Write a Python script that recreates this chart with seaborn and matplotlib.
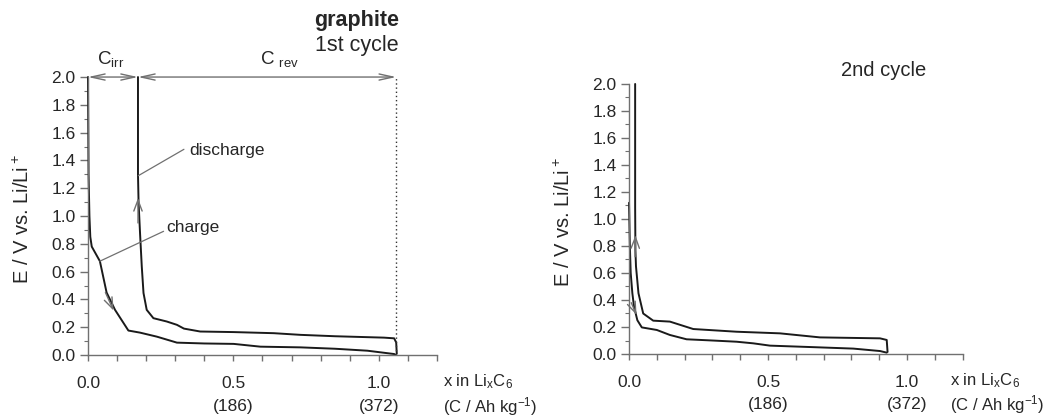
import numpy as np
import pandas as pd
import seaborn as sns
import matplotlib.pyplot as plt
from matplotlib.ticker import MultipleLocator, FixedLocator
import matplotlib.transforms as mtransforms

# 1st cycle: x in LixC6, E in V vs Li/Li+
charge1_x = [0.0, 0.002, 0.005, 0.008, 0.013, 0.041, 0.064, 0.093, 0.139, 0.179, 0.237,
             0.306, 0.40, 0.501, 0.593, 0.731, 0.85, 0.961, 1.053, 1.06]
charge1_E = [2.0, 1.3, 1.0, 0.85, 0.78, 0.675, 0.45, 0.325, 0.176, 0.161, 0.132,
             0.089, 0.083, 0.08, 0.06, 0.055, 0.045, 0.031, 0.007, 0.0]
discharge1_x = [1.062, 1.06, 1.053, 1.018, 0.85, 0.731, 0.639, 0.5, 0.386, 0.33, 0.306,
                0.271, 0.225, 0.202, 0.191, 0.185, 0.179, 0.174, 0.172, 0.172]
discharge1_E = [0.01, 0.09, 0.12, 0.125, 0.135, 0.145, 0.157, 0.165, 0.169, 0.19, 0.217,
                0.241, 0.265, 0.325, 0.446, 0.638, 0.88, 1.1, 1.3, 2.0]

# 2nd cycle
charge2_x = [0.0, 0.003, 0.006, 0.012, 0.018, 0.03, 0.046, 0.1, 0.147, 0.207, 0.3, 0.387,
             0.447, 0.507, 0.687, 0.807, 0.903, 0.927]
charge2_E = [1.12, 0.8, 0.6, 0.45, 0.35, 0.25, 0.197, 0.178, 0.141, 0.109, 0.1, 0.091,
             0.079, 0.062, 0.049, 0.04, 0.022, 0.01]
discharge2_x = [0.93, 0.927, 0.903, 0.687, 0.543, 0.387, 0.231, 0.147, 0.087, 0.051, 0.034,
                0.025, 0.023, 0.022, 0.022]
discharge2_E = [0.015, 0.104, 0.116, 0.123, 0.153, 0.165, 0.185, 0.24, 0.247, 0.30, 0.45,
                0.65, 0.77, 1.09, 2.0]

x_ticks = np.round(np.arange(0, 1.21, 0.1), 1)
x_labels = ["0.0", "0.5", "1.0"]
cap_labels = ["(186)", "(372)"]

sns.set_style("ticks")
plt.rcParams['font.family'] = ['Liberation Sans', 'DejaVu Sans']
plt.rcParams['mathtext.default'] = 'regular'

fig = plt.figure(figsize=(10.51, 4.18), dpi=100)
ax1 = fig.add_axes([0.0837, 0.1507, 0.332, 0.665])
ax2 = fig.add_axes([0.5985, 0.1531, 0.3174, 0.646])

line_col = "#1a1a1a"
grey = "#707070"
tick_fs = 12.5


def draw_cycle(ax, cx, cE, dx, dE):
    df = pd.concat([
        pd.DataFrame({"x": cx, "E": cE, "branch": "charge"}),
        pd.DataFrame({"x": dx, "E": dE, "branch": "discharge"}),
    ])
    for br in ["charge", "discharge"]:
        sub = df[df["branch"] == br]
        sns.lineplot(data=sub, x="x", y="E", sort=False, estimator=None, ax=ax,
                     color=line_col, lw=1.4, clip_on=False)


def style_axes(ax, label_x, ylab_x):
    ax.set_xlim(0, 1.2)
    ax.set_ylim(0, 2.0)
    sns.despine(ax=ax)
    for s in ["left", "bottom"]:
        ax.spines[s].set_color(grey)
        ax.spines[s].set_linewidth(1.0)
    ax.yaxis.set_major_locator(MultipleLocator(0.2))
    ax.yaxis.set_minor_locator(MultipleLocator(0.1))
    ax.yaxis.set_major_formatter(plt.FormatStrFormatter("%.1f"))
    ax.tick_params(axis="y", which="major", length=6, width=1, color=grey, labelsize=tick_fs, pad=3)
    ax.tick_params(axis="y", which="minor", length=3, width=0.8, color=grey)
    ax.xaxis.set_major_locator(FixedLocator(x_ticks))
    ax.set_xticklabels([f"{t:.1f}" if t in (0.0, 0.5, 1.0) else "" for t in x_ticks])
    ax.tick_params(axis="x", length=4, width=1, color=grey, labelsize=tick_fs, pad=11)
    ax.set_xlabel("")
    ax.set_ylabel("E / V vs. Li/Li$^+$", fontsize=14.5)
    ax.yaxis.set_label_coords(ylab_x, 0.49)
    trans = mtransforms.blended_transform_factory(ax.transData, ax.transAxes)
    ax.text(0.5, -0.187, cap_labels[0], transform=trans, ha="center", va="center", fontsize=tick_fs)
    ax.text(1.0, -0.187, cap_labels[1], transform=trans, ha="center", va="center", fontsize=tick_fs)
    ax.text(label_x, -0.097, "x in Li$_x$C$_6$", transform=trans, ha="left", va="center", fontsize=12)
    ax.text(label_x, -0.187, "(C / Ah kg$^{-1}$)", transform=trans, ha="left", va="center", fontsize=12)


def arrow(ax, tail, head):
    ax.annotate("", xy=head, xytext=tail,
                arrowprops=dict(arrowstyle="->,head_length=0.8,head_width=0.3",
                                color=grey, lw=1.0, shrinkA=0, shrinkB=0))


# ---- 1st cycle
draw_cycle(ax1, charge1_x, charge1_E, discharge1_x, discharge1_E)
style_axes(ax1, 1.22, -0.158)
ax1.plot([1.06, 1.06], [0, 2.0], ls=(0, (1, 2)), color="#333333", lw=1.0, clip_on=False)
arrow(ax1, (0.172, 0.95), (0.172, 1.13))
arrow(ax1, (0.06, 0.45), (0.088, 0.32))
ax1.annotate("", xy=(0.0, 2.0), xytext=(0.172, 2.0), annotation_clip=False,
             arrowprops=dict(arrowstyle="<->,head_length=1.0,head_width=0.22",
                             color=grey, lw=1.0, shrinkA=0, shrinkB=0))
ax1.annotate("", xy=(0.172, 2.0), xytext=(1.06, 2.0), annotation_clip=False,
             arrowprops=dict(arrowstyle="<->,head_length=1.0,head_width=0.22",
                             color=grey, lw=1.0, shrinkA=0, shrinkB=0))
ax1.text(0.078, 2.13, "C$_{irr}$", ha="center", va="center", fontsize=13.5)
ax1.text(0.66, 2.13, "C $_{rev}$", ha="center", va="center", fontsize=13.5)
ax1.plot([0.041, 0.26], [0.675, 0.89], color=grey, lw=0.9)
ax1.text(0.27, 0.92, "charge", ha="left", va="center", fontsize=12.5)
ax1.plot([0.173, 0.33], [1.29, 1.48], color=grey, lw=0.9)
ax1.text(0.35, 1.47, "discharge", ha="left", va="center", fontsize=12.5)
ax1.text(1.069, 2.41, "graphite", ha="right", va="center", fontsize=15.5, fontweight="bold")
ax1.text(1.069, 2.225, "1st cycle", ha="right", va="center", fontsize=15.5)

# ---- 2nd cycle
draw_cycle(ax2, charge2_x, charge2_E, discharge2_x, discharge2_E)
style_axes(ax2, 1.155, -0.165)
arrow(ax2, (0.022, 0.72), (0.023, 0.88))
arrow(ax2, (0.008, 0.38), (0.027, 0.29))
ax2.text(1.07, 2.1, "2nd cycle", ha="right", va="center", fontsize=14.5)

fig.savefig("out.png", dpi=100)
